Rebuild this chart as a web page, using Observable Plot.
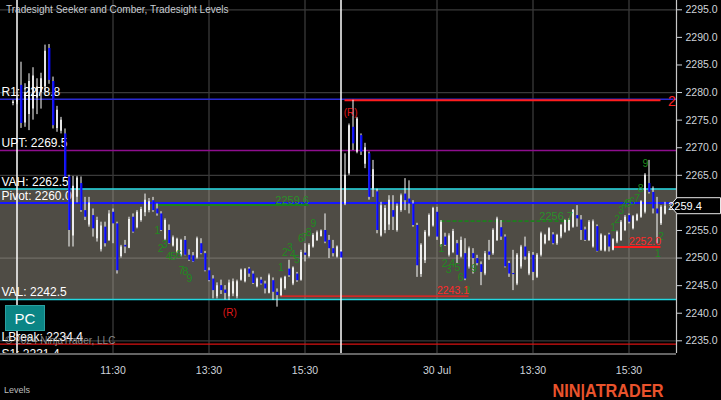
<!DOCTYPE html>
<html><head><meta charset="utf-8">
<script src="https://cdn.jsdelivr.net/npm/d3@7"></script>
<script src="https://cdn.jsdelivr.net/npm/@observablehq/plot@0.6"></script>
<style>
html,body{margin:0;padding:0;background:#000;}
#wrap{position:relative;width:721px;height:400px;background:#000;overflow:hidden;font-family:"Liberation Sans",Arial,sans-serif;}
#wrap svg{position:absolute;left:0;top:0;}
.ov{position:absolute;white-space:nowrap;line-height:1;}
</style></head><body><div id="wrap"></div>
<script>
// ---------- data ----------
const firstBar = -2; // bar index of first value (5-minute bars)
const barOpen = [
2278.0,2278.3,2281.3,2274.5,2276.0,2277.0,2279.0,2280.0,2281.0,2288.0,
2282.0,2273.5,2273.0,2272.5,2264.7,2254.0,2261.0,2263.5,2258.6,2256.0,
2257.7,2253.5,2251.5,2255.6,2253.2,2258.3,2256.2,2250.3,2252.3,2251.8,
2257.4,2255.5,2256.8,2258.2,2258.6,2260.4,2258.9,2258.0,2253.4,2255.0,
2252.2,2251.0,2250.4,2253.2,2250.5,2250.4,2250.0,2252.6,2250.8,2247.7,
2246.2,2243.0,2245.0,2244.2,2243.0,2243.5,2243.0,2246.0,2245.7,2248.0,
2247.1,2244.8,2246.0,2245.3,2243.6,2245.9,2243.8,2243.2,2244.5,2248.0,
2245.3,2247.1,2246.0,2250.9,2250.3,2252.0,2253.2,2253.9,2255.0,2253.2,
2251.7,2250.2,2251.1,2259.8,2265.3,2273.7,2269.2,2272.2,2267.0,2268.9,
2262.5,2262.0,2254.0,2255.0,2256.0,2258.6,2255.0,2258.6,2261.6,2260.7,
2259.8,2255.9,2247.0,2249.5,2254.0,2255.8,2258.3,2252.3,2253.8,2250.5,
2251.0,2252.6,2250.2,2250.8,2248.4,2250.8,2249.9,2248.8,2247.1,2251.1,
2250.8,2253.2,2255.5,2253.8,2249.0,2247.2,2245.3,2248.4,2252.0,2247.1,
2250.5,2246.5,2250.5,2252.6,2253.2,2254.2,2252.6,2253.8,2254.7,2255.0,
2255.6,2257.7,2256.9,2255.1,2253.2,2252.0,2255.7,2251.4,2251.3,2254.2,
2251.4,2252.9,2253.2,2255.0,2257.7,2255.3,2256.8,2257.4,2258.3,2263.5,
2261.9,2258.9,2256.2,2258.0];
const barHigh = [
2278.6,2278.9,2285.5,2281.6,2283.4,2284.5,2282.5,2283.5,2288.6,2288.7,
2282.8,2277.5,2275.5,2273.4,2265.0,2264.8,2264.8,2264.7,2261.0,2261.0,
2258.9,2257.4,2256.5,2256.5,2258.6,2258.9,2256.5,2252.3,2253.2,2257.4,
2258.0,2258.6,2259.2,2261.6,2260.8,2261.0,2259.8,2258.4,2257.1,2256.0,
2254.0,2253.6,2253.4,2253.9,2251.5,2251.0,2253.8,2253.5,2251.2,2248.2,
2246.8,2245.5,2246.0,2245.0,2246.0,2246.2,2246.0,2248.0,2248.1,2248.3,
2247.6,2246.4,2246.5,2245.8,2247.1,2246.4,2244.4,2246.4,2246.7,2249.6,
2248.4,2247.4,2251.4,2252.6,2252.6,2254.4,2254.9,2255.1,2258.0,2254.1,
2253.2,2252.2,2251.4,2268.9,2274.3,2278.6,2275.5,2272.5,2270.8,2269.2,
2267.7,2262.5,2260.1,2259.5,2261.3,2261.3,2259.8,2261.6,2264.4,2264.0,
2260.4,2256.3,2252.6,2255.0,2258.0,2259.2,2259.2,2256.8,2254.5,2254.4,
2255.2,2253.2,2253.8,2253.5,2252.0,2251.7,2250.5,2249.3,2251.2,2253.2,
2255.3,2257.4,2256.8,2254.2,2249.4,2251.4,2250.8,2252.3,2253.8,2251.2,
2251.0,2250.8,2254.7,2254.3,2255.5,2254.6,2254.3,2256.1,2257.0,2257.1,
2258.8,2259.5,2257.7,2255.6,2256.8,2256.9,2256.0,2254.4,2254.1,2254.5,
2253.5,2254.9,2256.8,2257.7,2258.0,2257.7,2258.0,2260.4,2265.3,2267.7,
2262.9,2261.0,2259.5,2260.1];
const barLow = [
2277.6,2277.8,2273.5,2273.7,2273.1,2275.0,2276.0,2277.0,2280.0,2281.5,
2273.4,2272.8,2272.5,2264.5,2252.0,2252.0,2260.0,2258.3,2256.8,2255.6,
2253.8,2252.9,2251.1,2252.0,2253.0,2252.6,2247.1,2250.0,2250.8,2251.7,
2254.5,2255.3,2256.5,2257.5,2258.2,2258.3,2257.6,2254.8,2253.1,2252.5,
2252.0,2250.8,2250.2,2250.4,2249.4,2249.2,2249.8,2250.6,2247.5,2245.7,
2242.6,2242.6,2243.4,2242.4,2242.3,2243.0,2242.6,2245.8,2245.5,2246.5,
2245.2,2244.6,2245.1,2243.5,2243.5,2242.3,2241.1,2243.0,2244.2,2246.5,
2245.0,2245.6,2245.8,2249.3,2250.0,2251.8,2253.0,2253.8,2252.6,2249.9,
2250.2,2250.0,2249.8,2259.5,2265.0,2269.5,2268.9,2268.6,2266.2,2260.5,
2261.0,2254.4,2253.8,2254.4,2255.0,2255.0,2254.7,2258.3,2258.6,2258.0,
2255.6,2246.5,2246.5,2249.0,2253.8,2255.6,2253.2,2252.0,2252.1,2250.2,
2250.8,2249.0,2250.0,2245.9,2248.0,2247.1,2248.6,2245.0,2246.8,2249.6,
2250.5,2253.0,2253.2,2248.2,2246.5,2244.1,2245.0,2248.0,2249.6,2246.8,
2245.9,2246.3,2250.2,2252.4,2253.0,2252.4,2252.3,2253.5,2254.5,2254.8,
2255.4,2255.6,2253.2,2253.0,2253.0,2251.8,2251.1,2251.2,2251.1,2251.1,
2251.3,2252.6,2253.0,2254.8,2256.2,2255.1,2256.6,2257.2,2258.0,2261.6,
2258.0,2252.6,2255.9,2257.8];
const barClose = [
2278.3,2278.5,2274.4,2280.0,2282.0,2283.0,2281.0,2282.5,2287.5,2282.2,
2274.0,2276.8,2275.0,2264.7,2255.0,2263.0,2264.5,2258.6,2257.4,2260.0,
2255.3,2256.8,2255.8,2252.6,2258.0,2256.2,2247.7,2252.0,2252.0,2257.0,
2254.7,2258.3,2258.8,2260.5,2260.2,2258.6,2258.0,2255.0,2256.8,2252.6,
2253.7,2253.4,2253.2,2250.5,2249.6,2249.3,2253.5,2250.8,2247.7,2245.9,
2244.1,2245.0,2244.1,2243.6,2245.5,2245.7,2245.7,2247.8,2247.9,2247.1,
2245.4,2246.2,2245.3,2244.4,2246.8,2243.8,2243.2,2246.2,2246.5,2246.8,
2248.2,2245.9,2251.0,2250.5,2252.3,2254.1,2254.6,2254.9,2252.9,2251.7,
2250.8,2252.0,2250.0,2265.0,2274.0,2270.7,2275.2,2269.2,2270.0,2261.0,
2266.0,2255.0,2259.5,2259.0,2260.5,2257.4,2259.4,2261.3,2260.4,2259.8,
2255.9,2248.6,2252.3,2254.7,2257.7,2259.0,2253.8,2256.5,2252.3,2254.0,
2254.8,2250.5,2253.2,2246.2,2251.7,2249.9,2249.0,2247.4,2250.8,2250.5,
2255.0,2257.1,2253.8,2248.4,2247.1,2247.0,2250.5,2252.0,2250.2,2250.8,
2247.4,2250.5,2254.4,2254.1,2255.3,2252.6,2254.1,2255.9,2256.8,2256.8,
2258.6,2257.1,2255.0,2253.2,2256.5,2256.6,2251.2,2254.2,2253.9,2252.0,
2253.3,2254.7,2256.5,2257.4,2256.5,2257.5,2257.8,2260.2,2265.0,2261.9,
2258.9,2258.0,2259.2,2259.4];

const levelName  = ["R1","UPT","VAH","Pivot","VAL","LBreak","S1"];
const levelValue = [2278.8, 2269.5, 2262.5, 2260.0, 2242.5, 2234.4, 2231.4];

const segValue = [2278.8, 2259.6, 2256.7, 2243.1, 2252.0];
const segFrom  = [81, 34, 105, 65, 148];
const segTo    = [160, 72, 138, 112, 160];
const segText  = ["2", "2259.6", "2256.7", "2243.1", "2252.0"];

const countLabel = ["1","2","3","4","5","6","7","8","9",
                    "1","2","3","4","5","6","7","8","9",
                    "1","2","3","4","5","6","8","9",
                    "1","2","3","4","5","6","7","8","9",
                    "1","2"];
const countBar = [34.1,34.9,35.9,36.9,38.1,39.4,40.1,41.1,42.1,
                  65.0,66.0,67.2,68.0,69.0,70.0,70.9,71.9,73.1,
                  105.1,105.9,106.9,107.8,109.1,109.9,111.6,113.2,
                  148.05,149.05,150.05,150.9,151.8,152.8,154.05,154.9,156.1,
                  159.2,160.05];
const countPrice = [2255.0,2251.7,2252.5,2250.3,2250.3,2250.7,2247.8,2247.6,2246.3,
                    2248.3,2250.9,2251.9,2250.6,2249.7,2253.5,2253.7,2254.6,2256.3,
                    2251.7,2249.0,2247.9,2249.0,2248.3,2246.4,2244.1,2248.0,
                    2255.5,2257.0,2258.6,2259.7,2259.9,2260.3,2260.7,2262.6,2267.2,
                    2250.8,2253.8];

const reversalBar = [52.2, 82.4];
const reversalPrice = [2240.0, 2276.3];

const sessionStartBar = [-1, 80];
const xTickBar = [23, 47, 71, 104, 128, 152];
const xTickLabel = ["11:30","13:30","15:30","30 Jul","13:30","15:30"];
const yTickPrice = [2235,2240,2245,2250,2255,2265,2270,2275,2280,2285,2290,2295];
const gridPrice = [2235,2250,2265,2280,2295];
const lastPrice = 2259.4;

// ---------- build ----------
const W=721,H=400,MR=45,MB=47;
const X0=-5.125,X1=163.875,Y0=2232.70,Y1=2296.686;
const FONT='"Liberation Sans", Arial, sans-serif';

const n = Math.min(barOpen.length,barHigh.length,barLow.length,barClose.length);
const bars = d3.range(n).map(k=>({i:firstBar+k,o:barOpen[k],h:barHigh[k],l:barLow[k],c:barClose[k]}));
const upBars = bars.filter(d=>d.c>=d.o), downBars = bars.filter(d=>d.c<d.o);
const levels = levelName.map((name,k)=>({name,value:levelValue[k]}));
const levelStyle = {R1:["#2b2bd2",1.5],UPT:["#8e0e8e",1.5],VAH:["#22d8e2",1.5],Pivot:["#1616ff",2],
                    VAL:["#22d8e2",1.5],LBreak:["#d81212",1.2],S1:["#d81212",1.2]};
const segs = segValue.map((v,k)=>({v,a:segFrom[k],b:segTo[k],t:segText[k]}));
const segStyle = [
  {stroke:"#ff1c1c",w:2,dy:1},
  {stroke:"#1d801d",w:2,dy:0},
  {stroke:"#1d801d",w:1.6,dy:0,dash:"4,2"},
  {stroke:"#ff1c1c",w:1.4,dy:0},
  {stroke:"#ff1c1c",w:2,dy:0}];
const segLabelFill = ["#ff2020","#2a8f2a","#2a8f2a","#ff2a2a","#ff2a2a"];
const counts = countLabel.map((t,k)=>({t,i:countBar[k],p:countPrice[k]}));
const revs = reversalBar.map((b,k)=>({i:b,p:reversalPrice[k]}));
const bandVAH = levelValue[levelName.indexOf("VAH")], bandVAL = levelValue[levelName.indexOf("VAL")];

const marks = [
  Plot.ruleY(gridPrice,{stroke:"#3a3a3a",strokeWidth:1.3}),
  Plot.ruleX(xTickBar,{stroke:"#3a3a3a",strokeWidth:1.3}),
  Plot.rect([0],{x1:X0,x2:X1,y1:bandVAL,y2:bandVAH,fill:"rgb(182,177,160)",fillOpacity:0.43}),
  ...levels.map(d=>Plot.ruleY([d],{y:"value",stroke:levelStyle[d.name][0],strokeWidth:levelStyle[d.name][1],clip:true})),
  ...segs.map((s,k)=>Plot.ruleY([s],Object.assign({y:"v",x1:"a",x2:"b",stroke:segStyle[k].stroke,strokeWidth:segStyle[k].w,dy:segStyle[k].dy},
        segStyle[k].dash?{strokeDasharray:segStyle[k].dash}:{}))),
  Plot.ruleX(sessionStartBar,{stroke:"#ffffff",strokeWidth:1.5}),
  Plot.text(levels,{x:X0,y:"value",text:d=>`${d.name}: ${d.value.toFixed(1)}`,textAnchor:"start",dx:1,dy:-7,
        fill:"#ffffff",fontSize:12,fontFamily:FONT,clip:true}),
  Plot.ruleX(bars,{x:"i",y1:"l",y2:"h",stroke:"#ffffff",strokeWidth:1}),
  Plot.ruleX(upBars,{x:"i",y1:"o",y2:"c",stroke:"#ffffff",strokeWidth:1.6}),
  Plot.ruleX(downBars,{x:"i",y1:"o",y2:"c",stroke:"#0a0aff",strokeWidth:2.2,dx:0.3}),
  Plot.text(counts,{x:"i",y:"p",text:"t",fill:"#1f8a1f",fontSize:10.5,fontFamily:FONT}),
  Plot.text(revs,{x:"i",y:"p",text:()=>"(R)",fill:"#e01818",fontSize:10,fontFamily:FONT}),
  ...segs.map((s,k)=>Plot.text([s],k===0
      ? {x:"b",y:"v",text:"t",textAnchor:"start",dx:7,dy:2,fill:segLabelFill[k],fontSize:14,fontFamily:FONT}
      : {x:"b",y:"v",text:"t",textAnchor:"end",dy:-5,fill:segLabelFill[k],fontSize:k<3?11:10.5,fontFamily:FONT})),
  // mask anything spilling below the price pane
  Plot.rect([0],{x1:X0,x2:X1,y1:Y0-2,y2:Y0,fill:"#000"}),
  Plot.ruleX([X1],{stroke:"#c8c8c8",strokeWidth:1.2}),
  Plot.ruleY([Y0],{stroke:"#c8c8c8",strokeWidth:1.2,dy:0.5})
];

const plot = Plot.plot({
  width:W,height:H,marginLeft:0,marginRight:MR,marginTop:0,marginBottom:MB,
  style:{background:"transparent",color:"#cfd4da",fontSize:"10.5px",fontFamily:FONT,overflow:"visible"},
  x:{domain:[X0,X1],axis:"bottom",ticks:xTickBar,tickFormat:d=>xTickLabel[xTickBar.indexOf(d)],tickSize:5,tickPadding:8,label:null},
  y:{domain:[Y0,Y1],axis:"right",ticks:yTickPrice,tickFormat:d=>d.toFixed(1),tickSize:5,tickPadding:4,label:null},
  marks
});
document.getElementById("wrap").appendChild(plot);

// current price marker
const ys = d3.scaleLinear().domain([Y0,Y1]).range([H-MB,0]);
const yp = ys(lastPrice);
const svg = d3.select(plot);
svg.append("path")
  .attr("d",`M670,${yp} L677,${yp-8} L720.5,${yp-8} L720.5,${yp+8} L677,${yp+8} Z`)
  .attr("fill","#000").attr("stroke","#e8e8e8").attr("stroke-width",1);
svg.append("text").attr("x",685).attr("y",yp+4).attr("fill","#ffffff")
  .attr("font-size",11).attr("font-family",FONT).text(lastPrice.toFixed(1));
// logo
svg.append("text").attr("x",608).attr("y",397).attr("fill","#e9532c")
  .attr("font-size",19).attr("font-weight","bold").attr("font-family",FONT)
  .attr("textLength",111).attr("lengthAdjust","spacingAndGlyphs").text("NIN|ATRADER");

// overlays
const wrap = document.getElementById("wrap");
function ov(html, css){const d=document.createElement("div");d.className="ov";d.innerHTML=html;Object.assign(d.style,css);wrap.appendChild(d);return d;}
ov("Tradesight Seeker and Comber, Tradesight Levels",{left:"6px",top:"5px",fontSize:"10px",color:"#c9cdd2"});
ov("PC",{left:"5px",top:"305px",width:"38px",height:"24px",background:"#0b8585",border:"1px solid #2aa0a0",
  color:"#ffffff",fontSize:"15px",display:"flex",alignItems:"center",justifyContent:"center"});
ov("© 2024 NinjaTrader, LLC",{left:"5px",top:"336px",fontSize:"10px",color:"rgba(175,175,175,0.75)"});
ov("Levels",{left:"4px",top:"386px",fontSize:"9px",color:"#bdbdbd"});
</script></body></html>
